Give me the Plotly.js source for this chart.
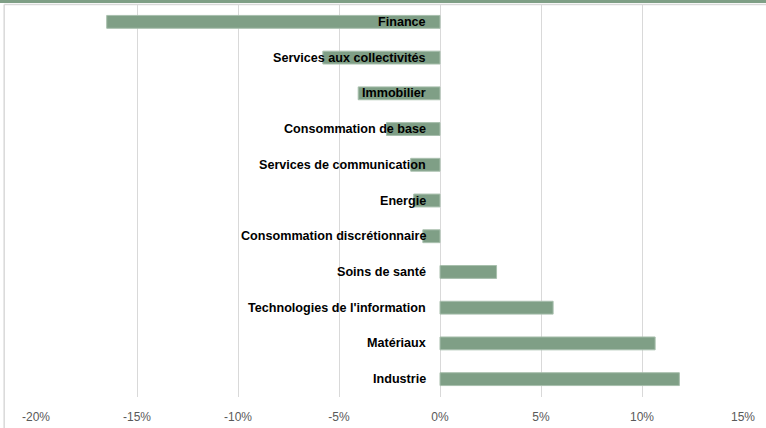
<!DOCTYPE html>
<html>
<head>
<meta charset="utf-8">
<script src="https://cdn.plot.ly/plotly-3.0.1.min.js"></script>
<style>html,body{margin:0;padding:0;background:#fff;}#chart{width:766px;height:428px;}</style>
</head>
<body>
<div id="chart"></div>
<script>
const sectors = ["Finance","Services aux collectivités","Immobilier","Consommation de base","Services de communication","Energie","Consommation discrétionnaire","Soins de santé","Technologies de l'information","Matériaux","Industrie"];
const perf = [-16.5,-5.8,-4.05,-2.65,-1.45,-1.3,-0.85,2.8,5.6,10.65,11.85];
const xTicks = [-20,-15,-10,-5,0,5,10,15];

const trace = {
  type: 'bar', orientation: 'h', x: perf, y: sectors,
  width: 0.36,
  marker: {color: '#7f9f86', line: {color: '#a8bfad', width: 1}},
  hoverinfo: 'skip'
};
const annotations = sectors.map(s => ({
  x: 0, y: s, xref: 'x', yref: 'y', text: '<b>' + s + '</b>', showarrow: false,
  xanchor: 'right', xshift: -12,
  font: {family: 'Liberation Sans, Arial, sans-serif', size: 12.6, color: '#000'}
}));
const layout = {
  width: 766, height: 428,
  margin: {l: 36, r: 23, t: 4, b: 31},
  paper_bgcolor: '#fff', plot_bgcolor: '#fff',
  showlegend: false,
  xaxis: {
    range: [-20, 15], tickvals: xTicks, ticktext: xTicks.map(v => v + '%'),
    showgrid: true, gridcolor: '#d9d9d9', gridwidth: 1, zeroline: false,
    showline: false, ticks: '', ticklabelstandoff: 11,
    tickfont: {family: 'Liberation Sans, Arial, sans-serif', size: 12, color: '#595959'}
  },
  yaxis: {
    type: 'category', autorange: 'reversed', showticklabels: false,
    showgrid: false, zeroline: false, showline: false, ticks: ''
  },
  annotations: annotations,
  shapes: [
    {type: 'rect', xref: 'paper', yref: 'paper', x0: -0.07, x1: 1.1, y0: 1.0025, y1: 1.02,
     fillcolor: '#7f9f86', line: {width: 0}, layer: 'above'},
    {type: 'line', xref: 'paper', yref: 'paper', x0: -0.045, x1: -0.045, y0: -0.08, y1: 0.9987,
     line: {color: '#d9d9d9', width: 1.5}},
    {type: 'line', xref: 'paper', yref: 'paper', x0: -0.045, x1: 1.1, y0: 0.9987, y1: 0.9987,
     line: {color: '#d9d9d9', width: 1.5}}
  ]
};
Plotly.newPlot('chart', [trace], layout, {displayModeBar: false, staticPlot: true});
</script>
</body>
</html>
